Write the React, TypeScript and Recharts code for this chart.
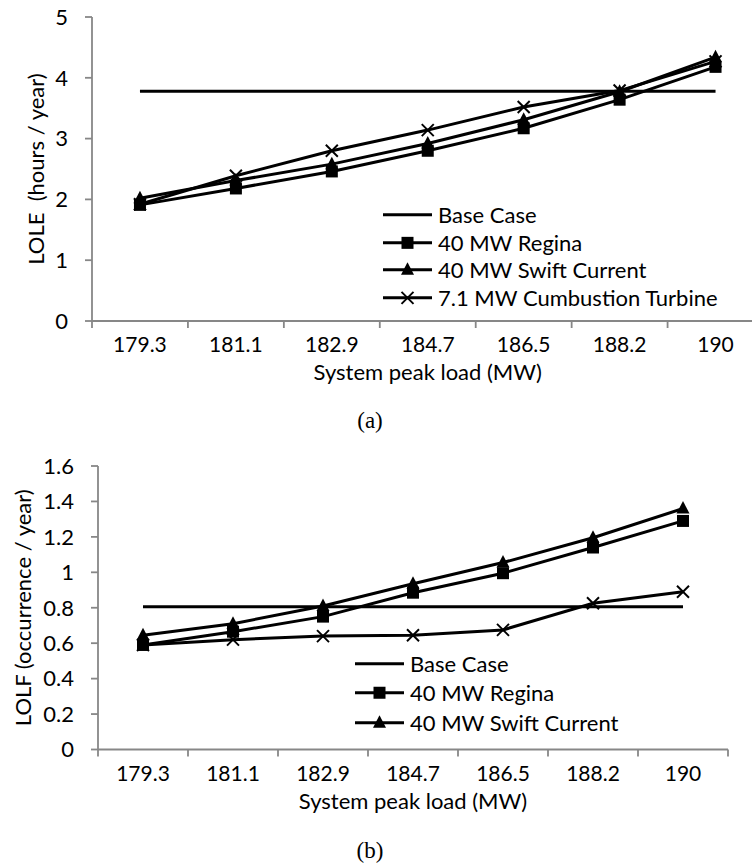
import React from 'react';
import { LineChart, Line, XAxis, YAxis, Legend, Label } from 'recharts';

// x categories: system peak load (MW)
const categories = ['179.3', '181.1', '182.9', '184.7', '186.5', '188.2', '190'];

// (a) LOLE, hours / year
const baseLole = [3.78, 3.78, 3.78, 3.78, 3.78, 3.78, 3.78];
const reginaLole = [1.91, 2.18, 2.46, 2.8, 3.17, 3.64, 4.18];
const swiftLole = [2.02, 2.31, 2.58, 2.92, 3.31, 3.77, 4.34];
const turbineLole = [1.92, 2.39, 2.8, 3.14, 3.52, 3.79, 4.27];

// (b) LOLF, occurrence / year
const baseLolf = [0.805, 0.805, 0.805, 0.805, 0.805, 0.805, 0.805];
const reginaLolf = [0.59, 0.665, 0.75, 0.885, 0.995, 1.14, 1.29];
const swiftLolf = [0.645, 0.71, 0.81, 0.935, 1.055, 1.195, 1.36];
const turbineLolf = [0.59, 0.62, 0.64, 0.645, 0.675, 0.825, 0.89];

const loleTicks = [0, 1, 2, 3, 4, 5];
const lolfTicks = [0, 0.2, 0.4, 0.6, 0.8, 1, 1.2, 1.4, 1.6];
// category centres sit on whole numbers, the tick marks between them on halves
const xTicks = [-0.5, 0, 0.5, 1, 1.5, 2, 2.5, 3, 3.5, 4, 4.5, 5, 5.5, 6, 6.5];

const FONT = 'Lato, "Open Sans", sans-serif';
const GREY = '#878787';

type Marker = 'none' | 'square' | 'triangle' | 'cross';

const series: { key: string; name: string; marker: Marker }[] = [
  { key: 'base', name: 'Base Case', marker: 'none' },
  { key: 'regina', name: '40 MW Regina', marker: 'square' },
  { key: 'swift', name: '40 MW Swift Current', marker: 'triangle' },
  { key: 'turbine', name: '7.1 MW Cumbustion Turbine', marker: 'cross' },
];

const loleData = categories.map((c, i) => ({
  x: i,
  base: baseLole[i],
  regina: reginaLole[i],
  swift: swiftLole[i],
  turbine: turbineLole[i],
}));

const lolfData = categories.map((c, i) => ({
  x: i,
  base: baseLolf[i],
  regina: reginaLolf[i],
  swift: swiftLolf[i],
  turbine: turbineLolf[i],
}));

function drawMarker(kind: Marker, cx: number, cy: number, key?: string) {
  if (kind === 'square') {
    return <rect key={key} x={cx - 6} y={cy - 6} width={12} height={12} fill="#000" />;
  }
  if (kind === 'triangle') {
    return (
      <polygon
        key={key}
        points={`${cx},${cy - 7.5} ${cx + 6.5},${cy + 5} ${cx - 6.5},${cy + 5}`}
        fill="#000"
      />
    );
  }
  if (kind === 'cross') {
    return (
      <g key={key} stroke="#000" strokeWidth={2}>
        <line x1={cx - 6} y1={cy - 6} x2={cx + 6} y2={cy + 6} />
        <line x1={cx - 6} y1={cy + 6} x2={cx + 6} y2={cy - 6} />
      </g>
    );
  }
  return <g key={key} />;
}

const dotFor = (kind: Marker) => (p: any) =>
  drawMarker(kind, p.cx, p.cy, `${kind}-${p.index}`);

const CategoryTick = (props: any) => {
  const { x, y, payload } = props;
  const v = payload.value;
  if (Number.isInteger(v)) {
    return (
      <text x={x} y={y + 31} textAnchor="middle" fontFamily={FONT} fontSize={21} fill="#000">
        {categories[v]}
      </text>
    );
  }
  return <line x1={x} y1={y} x2={x} y2={y + 7} stroke={GREY} strokeWidth={1.8} />;
};

const makeLegend = (rowH: number, lineW: number, keys: string[]) => (props: any) => {
  const items = [...(props.payload || [])]
    .filter((e: any) => keys.includes(e.dataKey))
    .sort((a: any, b: any) => keys.indexOf(a.dataKey) - keys.indexOf(b.dataKey));
  return (
    <div style={{ fontFamily: FONT, fontSize: 22, color: '#000' }}>
      {items.map((entry: any) => {
        const s = series.find((d) => d.key === entry.dataKey);
        return (
          <div key={entry.dataKey} style={{ display: 'flex', alignItems: 'center', height: rowH }}>
            <svg width={lineW} height={rowH} style={{ overflow: 'visible', flex: 'none' }}>
              <line x1={0} y1={rowH / 2} x2={lineW} y2={rowH / 2} stroke="#000" strokeWidth={3} />
              {drawMarker(s ? s.marker : 'none', lineW / 2, rowH / 2)}
            </svg>
            <span style={{ marginLeft: 6, whiteSpace: 'nowrap', lineHeight: `${rowH}px` }}>
              {entry.value}
            </span>
          </div>
        );
      })}
    </div>
  );
};

function PanelChart({
  data,
  width,
  height,
  margin,
  yWidth,
  yDomain,
  yTicks,
  yLabel,
  yLabelDx,
  legendPos,
  legendRow,
  legendKeys,
}: any) {
  return (
    <LineChart width={width} height={height} data={data} margin={margin}>
      <XAxis
        dataKey="x"
        type="number"
        domain={[-0.5, 6.5]}
        ticks={xTicks}
        interval={0}
        tick={<CategoryTick />}
        tickLine={false}
        tickSize={0}
        tickMargin={0}
        height={60}
        axisLine={{ stroke: GREY, strokeWidth: 1.8 }}
      >
        <Label
          value="System peak load (MW)"
          position="insideBottom"
          offset={1}
          fill="#000"
          fontFamily={FONT}
          fontSize={22}
        />
      </XAxis>
      <YAxis
        type="number"
        domain={yDomain}
        ticks={yTicks}
        interval={0}
        width={yWidth}
        tickSize={7}
        tickMargin={17}
        tick={{ fill: '#000', fontFamily: FONT, fontSize: 22 }}
        tickLine={{ stroke: GREY, strokeWidth: 1.8 }}
        axisLine={{ stroke: GREY, strokeWidth: 1.8 }}
      >
        <Label
          value={yLabel}
          angle={-90}
          position="center"
          dx={yLabelDx}
          fill="#000"
          fontFamily={FONT}
          fontSize={22}
        />
      </YAxis>
      <Legend
        layout="vertical"
        align="center"
        verticalAlign="middle"
        content={makeLegend(legendRow, 49, legendKeys)}
        wrapperStyle={{ left: legendPos.left, top: legendPos.top, width: 'auto', height: 'auto' }}
      />
      {series.map((s) => (
        <Line
          key={s.key}
          type="linear"
          dataKey={s.key}
          name={s.name}
          stroke="#000"
          strokeWidth={3}
          dot={s.marker === 'none' ? false : dotFor(s.marker)}
          activeDot={false}
          isAnimationActive={false}
        />
      ))}
    </LineChart>
  );
}

export default function App() {
  return (
    <div
      style={{
        position: 'absolute',
        left: 0,
        top: 0,
        width: 752,
        height: 865,
        overflow: 'hidden',
        background: '#fff',
      }}
    >
      <svg
        width={752}
        height={865}
        style={{ position: 'absolute', left: 0, top: 0 }}
      >
        <text x={370} y={428} textAnchor="middle" fontFamily='"Liberation Serif", serif' fontSize={23} fill="#000">
          (a)
        </text>
        <text x={370} y={858} textAnchor="middle" fontFamily='"Liberation Serif", serif' fontSize={23} fill="#000">
          (b)
        </text>
      </svg>
      <div style={{ position: 'absolute', left: 0, top: 0 }}>
        <PanelChart
          data={loleData}
          width={780}
          height={390}
          margin={{ top: 17, right: 16.5, bottom: 9, left: 12 }}
          yWidth={80}
          yDomain={[0, 5]}
          yTicks={loleTicks}
          yLabel={'LOLE\u00a0 (hours / year)'}
          yLabelDx={-16}
          legendPos={{ left: 383, top: 201 }}
          legendRow={27.7}
          legendKeys={['base', 'regina', 'swift', 'turbine']}
        />
      </div>
      <div style={{ position: 'absolute', left: 0, top: 430 }}>
        <PanelChart
          data={lolfData}
          width={752}
          height={390}
          margin={{ top: 36, right: 24, bottom: 10.5, left: 12 }}
          yWidth={86}
          yDomain={[0, 1.6]}
          yTicks={lolfTicks}
          yLabel="LOLF (occurrence / year)"
          yLabelDx={-32}
          legendPos={{ left: 355, top: 218.5 }}
          legendRow={29.5}
          legendKeys={['base', 'regina', 'swift']}
        />
      </div>
    </div>
  );
}
